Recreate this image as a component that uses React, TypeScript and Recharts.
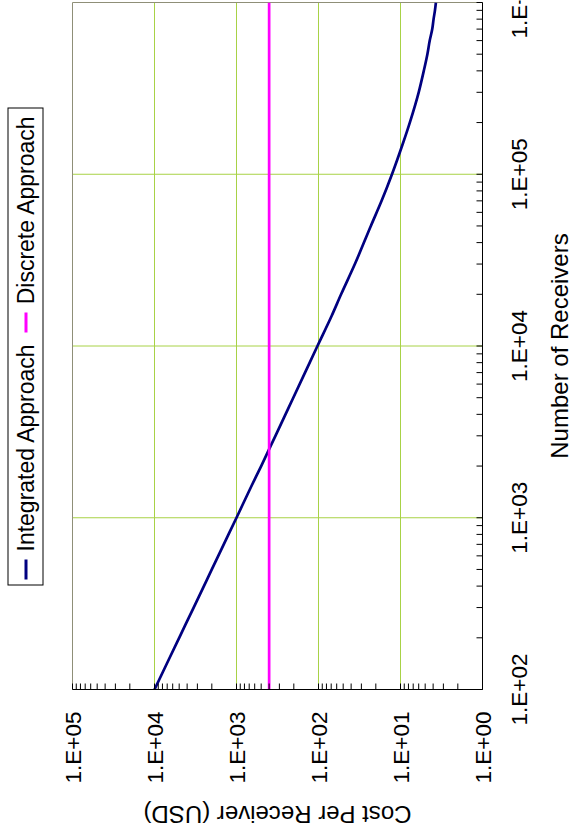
import React from "react";
import { LineChart, Line, XAxis, YAxis, ReferenceLine } from "recharts";

// number of receivers (x) and cost per receiver in USD (y)
const receivers = [100, 150, 200, 300, 500, 700, 1000, 1500, 2000, 3000, 5000, 7000, 10000, 15000, 20000, 30000, 50000, 70000, 100000, 150000, 200000, 300000, 400000, 500000, 600000, 700000, 800000, 900000, 1000000];
const integratedCost = [10000, 6670, 5000, 3330, 2000, 1430, 1000, 670, 500, 335, 203, 146, 103, 69, 53, 36, 23, 17, 12.7, 9.4, 7.7, 6.0, 5.2, 4.7, 4.4, 4.1, 3.95, 3.8, 3.7];
const discreteReceivers = [100, 1000000];
const discreteCost = [400, 400];

const receiverMajors = [100, 1000, 10000, 100000, 1000000];
const receiverLabels = ["1.E+02", "1.E+03", "1.E+04", "1.E+05", "1.E+06"];
const costMajors = [1, 10, 100, 1000, 10000, 100000];
const costLabels = ["1.E+00", "1.E+01", "1.E+02", "1.E+03", "1.E+04", "1.E+05"];
const minorSteps = [2, 3, 4, 5, 6, 7, 8, 9];

const integratedData = receivers.map((n, i) => ({ n, c: integratedCost[i] }));
const discreteData = discreteReceivers.map((n, i) => ({ n, c: discreteCost[i] }));

const withMinors = (majors: number[]) =>
  [...majors, ...majors.slice(0, -1).flatMap((m) => minorSteps.map((k) => m * k))].sort((a, b) => a - b);

// the chart is drawn landscape and then turned a quarter left, like the source image
const W = 835;
const H = 572;
const PLOT_LEFT = 146;
const PLOT_TOP = 72;
const PLOT_BOTTOM = 482;
const PLOT_RIGHT = 833;
const FONT = "'Liberation Sans', Arial, sans-serif";
const GRID = "#a8d246";
const BORDER = "#8f8f78";

const ReceiverTick = (props: any) => {
  const { x, payload } = props;
  const i = receiverMajors.indexOf(payload.value);
  return (
    <g>
      <line x1={x} x2={x} y1={PLOT_BOTTOM} y2={PLOT_BOTTOM - 6} stroke="#000" />
      {i >= 0 && (
        <text x={x} y={526} textAnchor="middle" fontSize={22.5} fill="#000">
          {receiverLabels[i]}
        </text>
      )}
    </g>
  );
};

const CostTick = (props: any) => {
  const { y, payload } = props;
  const i = costMajors.indexOf(payload.value);
  return (
    <g>
      <line x1={PLOT_LEFT} x2={PLOT_LEFT + 6} y1={y} y2={y} stroke="#000" />
      {i >= 0 && (
        <text x={124} y={y + 8} textAnchor="end" fontSize={22.5} fill="#000">
          {costLabels[i]}
        </text>
      )}
    </g>
  );
};

const ReceiverTitle = () => (
  <text x={(PLOT_LEFT + PLOT_RIGHT) / 2} y={567} textAnchor="middle" fontSize={24} fill="#000">
    Number of Receivers
  </text>
);

const CostTitle = () => {
  const cy = (PLOT_TOP + PLOT_BOTTOM) / 2;
  return (
    <text x={29.5} y={cy} transform={`rotate(-90, 29.5, ${cy})`} textAnchor="middle" fontSize={24} fill="#000">
      Cost Per Receiver (USD)
    </text>
  );
};

const series = [
  { name: "Integrated Approach", color: "#000080" },
  { name: "Discrete Approach", color: "#ff00ff" },
];

const LegendBox = () => (
  <div
    style={{
      position: "absolute",
      left: 250,
      top: 7,
      width: 478,
      height: 36,
      boxSizing: "border-box",
      border: "1px solid #000",
      display: "flex",
      alignItems: "center",
      paddingLeft: 5,
      fontSize: 23,
      background: "#fff",
    }}
  >
    {series.map((s, i) => (
      <React.Fragment key={s.name}>
        <span style={{ width: 20, height: 3, background: s.color, marginLeft: i === 0 ? 0 : 12, marginRight: 8 }} />
        <span style={{ whiteSpace: "nowrap" }}>{s.name}</span>
      </React.Fragment>
    ))}
  </div>
);

export default function App() {
  return (
    <div
      style={{
        position: "absolute",
        left: (H - W) / 2,
        top: (W - H) / 2,
        width: W,
        height: H,
        transform: "rotate(-90deg)",
        transformOrigin: "center",
        fontFamily: FONT,
        background: "#fff",
      }}
    >
      <LineChart width={W} height={H} margin={{ top: PLOT_TOP, right: W - PLOT_RIGHT, bottom: 0, left: 0 }}>
        <XAxis
          type="number"
          dataKey="n"
          scale="log"
          domain={[100, 1000000]}
          ticks={withMinors(receiverMajors)}
          interval={0}
          tick={<ReceiverTick />}
          tickLine={false}
          axisLine={{ stroke: "#000" }}
          height={H - PLOT_BOTTOM}
          allowDataOverflow
          label={<ReceiverTitle />}
        />
        <YAxis
          type="number"
          scale="log"
          domain={[1, 100000]}
          ticks={withMinors(costMajors)}
          interval={0}
          tick={<CostTick />}
          tickLine={false}
          axisLine={{ stroke: "#000" }}
          width={PLOT_LEFT}
          allowDataOverflow
          label={<CostTitle />}
        />
        {costMajors.slice(1, -1).map((v) => (
          <ReferenceLine key={"c" + v} y={v} stroke={GRID} strokeWidth={1} />
        ))}
        {receiverMajors.slice(1, -1).map((v) => (
          <ReferenceLine key={"n" + v} x={v} stroke={GRID} strokeWidth={1} />
        ))}
        <ReferenceLine y={100000} stroke={BORDER} strokeWidth={1} />
        <ReferenceLine x={1000000} stroke={BORDER} strokeWidth={1} />
        <Line
          data={integratedData}
          dataKey="c"
          name={series[0].name}
          type="monotone"
          stroke={series[0].color}
          strokeWidth={2.7}
          dot={false}
          isAnimationActive={false}
        />
        <Line
          data={discreteData}
          dataKey="c"
          name={series[1].name}
          type="linear"
          stroke={series[1].color}
          strokeWidth={2.7}
          dot={false}
          isAnimationActive={false}
        />
      </LineChart>
      <LegendBox />
    </div>
  );
}
